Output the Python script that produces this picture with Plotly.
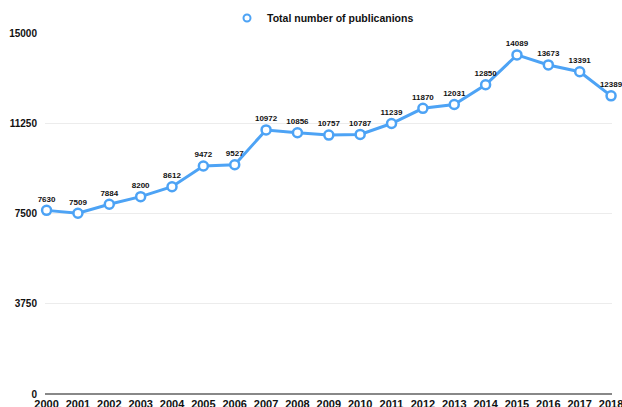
import plotly.graph_objects as go

years = list(range(2000, 2019))
values = [7630, 7509, 7884, 8200, 8612, 9472, 9527, 10972, 10856, 10757, 10787,
          11239, 11870, 12031, 12850, 14089, 13673, 13391, 12389]
y_ticks = [0, 3750, 7500, 11250, 15000]
series_name = "Total number of publicanions"

BLUE = "#4da3f5"
FONT = "Liberation Sans, Arial, sans-serif"

fig = go.Figure()
fig.add_trace(go.Scatter(
    x=years, y=values, name=series_name,
    mode="lines+markers+text",
    line=dict(color=BLUE, width=3),
    marker=dict(symbol="circle", size=9, color="white", line=dict(color=BLUE, width=2.5)),
    text=[str(v) for v in values],
    textposition="top center",
    textfont=dict(family=FONT, size=8, color="#111", weight="bold"),
    cliponaxis=False,
    showlegend=False,
))
# legend entry (marker only)
fig.add_trace(go.Scatter(
    x=[None], y=[None], name=series_name, mode="markers",
    marker=dict(symbol="circle", size=7, color="white", line=dict(color=BLUE, width=2)),
    showlegend=True,
))

fig.update_layout(
    width=622, height=407,
    margin=dict(l=45, r=10, t=33, b=13, autoexpand=False),
    plot_bgcolor="white", paper_bgcolor="white",
    font=dict(family=FONT, color="#111"),
    showlegend=True,
    legend=dict(orientation="h", x=227 / 622, xanchor="left", xref="container",
                y=1 - 18 / 407, yanchor="middle", yref="container",
                font=dict(family=FONT, size=10.5, color="#111", weight="bold"),
                itemwidth=30, bgcolor="rgba(0,0,0,0)"),
    xaxis=dict(range=[1999.95, 2018.03], tickmode="array", tickvals=years,
               ticktext=[str(y) for y in years], showgrid=False, zeroline=False,
               showline=False, ticks="", automargin=False, ticklabelstandoff=2,
               ticklabeloverflow="allow",
               tickfont=dict(family=FONT, size=11, color="#111", weight="bold"),
               fixedrange=True),
    yaxis=dict(range=[0, 15000], tickmode="array", tickvals=y_ticks,
               ticktext=[str(t) for t in y_ticks], showgrid=True, gridcolor="#ececec",
               gridwidth=1, zeroline=True, zerolinecolor="#888", zerolinewidth=1.5,
               showline=False, ticks="", ticklabelstandoff=7, automargin=False,
               tickfont=dict(family=FONT, size=10, color="#111", weight="bold"),
               fixedrange=True),
)

fig.write_html("out.html", config={"displayModeBar": False},
               post_script="document.body.style.margin='0';document.body.style.overflow='hidden';")
